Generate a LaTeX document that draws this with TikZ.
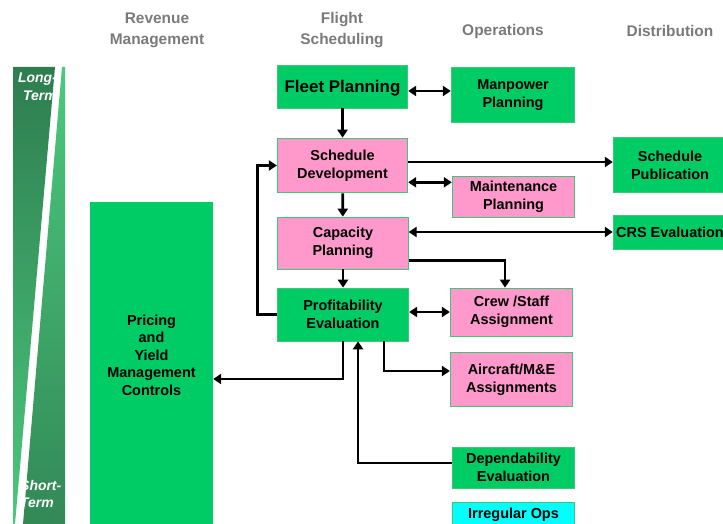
\documentclass[tikz,border=0pt]{standalone}
\usepackage{fontspec}
\setmainfont{Liberation Sans}
\usetikzlibrary{arrows.meta}

\definecolor{fillgreen}{HTML}{00CC66}
\definecolor{fillpink}{HTML}{FF99CC}
\definecolor{fillcyan}{HTML}{00FFFF}
\definecolor{edgegreen}{HTML}{3CC878}
\definecolor{headgray}{HTML}{7A7A7A}
\definecolor{bardark}{HTML}{2E7D4F}
\definecolor{barlight}{HTML}{4CC97E}

\newcommand\lblfont{\bfseries\fontsize{14.5}{18}\selectfont}
\newcommand\headfont{\bfseries\fontsize{15.5}{21}\selectfont}

\begin{document}
\begin{tikzpicture}[x=1bp, y=-1bp,
    box/.style={draw=edgegreen, line width=0.8bp, align=center, inner sep=0pt, font=\lblfont},
    greenbox/.style={box, fill=fillgreen},
    pinkbox/.style={box, fill=fillpink},
    cyanbox/.style={box, fill=fillcyan},
    head/.style={align=center, text=headgray, font=\headfont},
    term/.style={text=white, font=\bfseries\itshape\fontsize{14}{18}\selectfont, inner sep=0pt},
    link/.style={line width=2.8bp},
    arr/.style={link, -{Triangle[length=8bp,width=10bp]}},
    dbl/.style={link, {Triangle[length=8bp,width=10bp]}-{Triangle[length=8bp,width=10bp]}}]
      \useasboundingbox (0,0) rectangle (723,524);
      \clip (0,0) rectangle (723,524);

      % time bar on the left
      \shade[top color=bardark, bottom color=barlight] (13,67) -- (55,67) -- (15,524) -- (13,524) -- cycle;
      \shade[top color=barlight, bottom color=bardark!85!barlight] (62,67) -- (65,67) -- (65,524) -- (23,524) -- cycle;
      \node[term, anchor=east, align=right] (long) at (57,87) {Long-\\Term};
      \node[term, anchor=west, align=left] (short) at (20,494) {Short-\\Term};

      % column headings
      \node[head] (hrev) at (157,30) {Revenue\\Management};
      \node[head] (hflt) at (342,30.5) {Flight\\Scheduling};
      \node[head] (hops) at (503,32) {Operations};
      \node[head] (hdist) at (670,31) {Distribution};

      % boxes
      \node[greenbox, minimum width=131, minimum height=43, text depth=0pt, font=\bfseries\fontsize{17}{20}\selectfont] (fleet) at (342.5,86.5) {Fleet Planning};
      \node[greenbox, minimum width=124, minimum height=56] (manp) at (513,95) {Manpower\\Planning};
      \node[pinkbox, minimum width=131, minimum height=55] (sched) at (342.5,165.5) {Schedule\\Development};
      \node[pinkbox, minimum width=123, minimum height=41] (maint) at (513.5,196.5) {Maintenance\\Planning};
      \node[pinkbox, minimum width=131, minimum height=52] (capac) at (343,243) {Capacity\\Planning};
      \node[greenbox, minimum width=132, minimum height=53] (profit) at (343,314.5) {Profitability\\Evaluation};
      \node[pinkbox, minimum width=123, minimum height=48] (crew) at (511.5,312) {Crew /Staff\\Assignment};
      \node[pinkbox, minimum width=123, minimum height=55] (acft) at (511.5,379.5) {Aircraft/M\&E\\Assignments};
      \node[greenbox, minimum width=123, minimum height=41] (depend) at (513.5,467.5) {Dependability\\Evaluation};
      \node[cyanbox, minimum width=123, minimum height=26] (irreg) at (513.5,515) {Irregular Ops};
      \node[greenbox, minimum width=114, minimum height=56] (pub) at (670,165) {Schedule\\Publication};
      \node[greenbox, minimum width=114, minimum height=34] (crs) at (670,232) {CRS Evaluation};
      \node[greenbox, draw=none, minimum width=123, minimum height=328] (price) at (151.5,365) {};
      \node[font=\bfseries\fontsize{14.5}{17.5}\selectfont, align=center, inner sep=0pt] (pricetxt) at ([yshift=10bp]price.center) {Pricing\\and\\Yield\\Management\\Controls};

      % connectors
      \draw[arr] (fleet) -- (sched);
      \draw[arr] (sched) -- (capac);
      \draw[arr] (capac) -- (profit);
      \draw[dbl] ([yshift=-4.5bp]fleet.east) -- ([yshift=-4.5bp]fleet.east -| manp.west);
      \draw[dbl] ([yshift=11bp]sched.south east) -- ([yshift=11bp]sched.south east -| maint.west);
      \draw[arr] ([yshift=3.5bp]sched.east) -- ([yshift=3.5bp]sched.east -| pub.west);
      \draw[dbl] (crs.west -| capac.east) -- (crs.west);
      \draw[arr] ([yshift=9bp]capac.south east) -| ([xshift=-6.5bp]crew.north);
      \draw[dbl] (crew.west -| profit.east) -- (crew.west);
      \draw[arr] (profit.west) -- ++(-19,0) |- (sched.west);
      \draw[arr] (profit.south) |- ([yshift=-14bp]price.east);
      \draw[arr] ([xshift=41bp]profit.south) |- ([yshift=8.5bp]acft.west);
      \draw[arr] ([yshift=4.5bp]depend.west) -| ([xshift=15bp]profit.south);
\end{tikzpicture}
\end{document}
